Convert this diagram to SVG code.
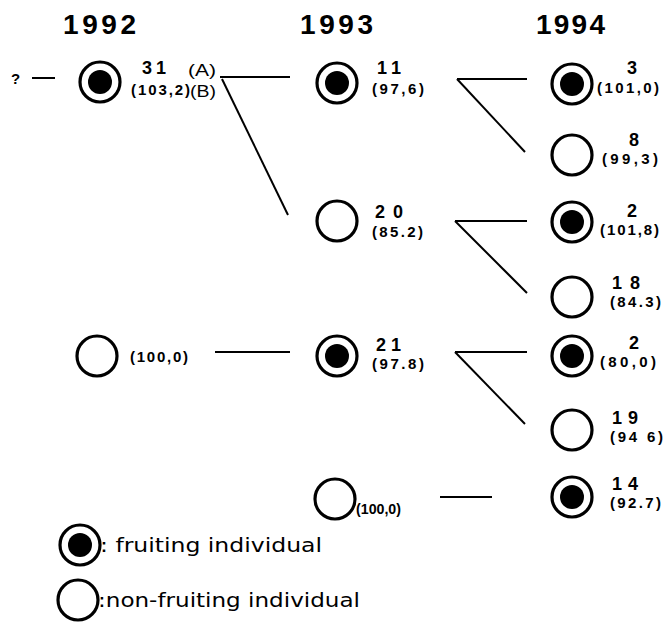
<svg xmlns="http://www.w3.org/2000/svg" width="665" height="631" viewBox="0 0 665 631">
<style>
.o{fill:#fff;stroke:#000;stroke-width:3.2}
.i{fill:#000}
.h{font-family:"Liberation Sans",Arial,sans-serif;font-weight:bold;font-size:28px}
.n{font-family:"Liberation Sans",Arial,sans-serif;font-weight:bold;font-size:18px}
.v{font-family:"Liberation Sans",Arial,sans-serif;font-weight:bold;font-size:15px}
.l{font-family:"Liberation Sans",Arial,sans-serif;font-size:17px}
.g{font-family:"DejaVu Sans",sans-serif;font-stretch:condensed;font-size:20px}
.c line{stroke:#000;stroke-width:2}
</style>
<rect width="665" height="631" fill="#fff"/>
<g id="headers">
<text class="h" x="63" y="34" textLength="73" lengthAdjust="spacing">1992</text>
<text class="h" x="300" y="34" textLength="73" lengthAdjust="spacing">1993</text>
<text class="h" x="536" y="34" textLength="69" lengthAdjust="spacing">1994</text>
</g>
<g class="c" id="connectors">
<line x1="32" y1="78" x2="55" y2="78"/>
<line x1="220" y1="77" x2="290" y2="77"/>
<line x1="222" y1="79" x2="288" y2="215"/>
<line x1="457" y1="79" x2="527" y2="79"/>
<line x1="457" y1="79" x2="525" y2="152"/>
<line x1="455" y1="221" x2="527" y2="221"/>
<line x1="455" y1="221" x2="527" y2="293"/>
<line x1="215" y1="352" x2="290" y2="352"/>
<line x1="455" y1="352" x2="527" y2="352"/>
<line x1="455" y1="352" x2="525" y2="424"/>
<line x1="440" y1="497" x2="492" y2="497"/>
</g>
<g id="q"><text class="v" x="11" y="84">?</text></g>
<g id="n1992a"><circle class="o" cx="100" cy="82" r="20"/><circle class="i" cx="100" cy="82" r="12"/>
<text class="n" x="142" y="74" textLength="24" lengthAdjust="spacing">31</text>
<text class="l" x="188" y="76" textLength="28" lengthAdjust="spacingAndGlyphs">(A)</text>
<text class="v" x="131" y="95" textLength="59" lengthAdjust="spacing">(103,2)</text>
<text class="l" x="190" y="97" textLength="26" lengthAdjust="spacingAndGlyphs">(B)</text></g>
<g id="n1993a"><circle class="o" cx="337" cy="83" r="20"/><circle class="i" cx="337" cy="83" r="12"/>
<text class="n" x="377" y="74" textLength="24" lengthAdjust="spacing">11</text>
<text class="v" x="372" y="94" textLength="52" lengthAdjust="spacing">(97,6)</text></g>
<g id="n1994a"><circle class="o" cx="572" cy="84" r="20"/><circle class="i" cx="572" cy="84" r="12"/>
<text class="n" x="627" y="74">3</text>
<text class="v" x="597" y="93" textLength="62" lengthAdjust="spacing">(101,0)</text></g>
<g id="n1994b"><circle class="o" cx="572" cy="155" r="20"/>
<text class="n" x="629" y="146">8</text>
<text class="v" x="602" y="164" textLength="56" lengthAdjust="spacing">(99,3)</text></g>
<g id="n1993b"><circle class="o" cx="337" cy="221" r="20"/>
<text class="n" x="375" y="218" textLength="28" lengthAdjust="spacing">20</text>
<text class="v" x="372" y="237" textLength="51" lengthAdjust="spacing">(85.2)</text></g>
<g id="n1994c"><circle class="o" cx="572" cy="222" r="20"/><circle class="i" cx="572" cy="222" r="12"/>
<text class="n" x="627" y="217">2</text>
<text class="v" x="600" y="235" textLength="59" lengthAdjust="spacing">(101,8)</text></g>
<g id="n1994d"><circle class="o" cx="572" cy="297" r="20"/>
<text class="n" x="612" y="289" textLength="28" lengthAdjust="spacing">18</text>
<text class="v" x="610" y="307" textLength="51" lengthAdjust="spacing">(84.3)</text></g>
<g id="n1992b"><circle class="o" cx="97" cy="356" r="20"/>
<text class="v" x="130" y="362" textLength="58" lengthAdjust="spacing">(100,0)</text></g>
<g id="n1993c"><circle class="o" cx="337" cy="356" r="20"/><circle class="i" cx="337" cy="356" r="12"/>
<text class="n" x="376" y="351" textLength="25" lengthAdjust="spacing">21</text>
<text class="v" x="372" y="369" textLength="52" lengthAdjust="spacing">(97.8)</text></g>
<g id="n1994e"><circle class="o" cx="572" cy="356" r="20"/><circle class="i" cx="572" cy="356" r="12"/>
<text class="n" x="629" y="349">2</text>
<text class="v" x="600" y="367" textLength="56" lengthAdjust="spacing">(80,0)</text></g>
<g id="n1994f"><circle class="o" cx="572" cy="430" r="20"/>
<text class="n" x="612" y="424" textLength="26" lengthAdjust="spacing">19</text>
<text class="v" x="610" y="442" textLength="53" lengthAdjust="spacing">(94 6)</text></g>
<g id="n1993d"><circle class="o" cx="335" cy="499" r="20"/>
<text class="v" x="356" y="514" textLength="45" lengthAdjust="spacingAndGlyphs">(100,0)</text></g>
<g id="n1994g"><circle class="o" cx="572" cy="497" r="20"/><circle class="i" cx="572" cy="497" r="12"/>
<text class="n" x="612" y="490" textLength="26" lengthAdjust="spacing">14</text>
<text class="v" x="610" y="508" textLength="51" lengthAdjust="spacing">(92.7)</text></g>
<g id="legend">
<circle class="o" cx="80" cy="545" r="20"/><circle class="i" cx="80" cy="545" r="12"/>
<text class="g" x="100" y="552" textLength="222" lengthAdjust="spacingAndGlyphs">: fruiting individual</text>
<circle class="o" cx="78" cy="600" r="20"/>
<text class="g" x="98" y="607" textLength="262" lengthAdjust="spacingAndGlyphs">:non-fruiting individual</text>
</g>
</svg>
